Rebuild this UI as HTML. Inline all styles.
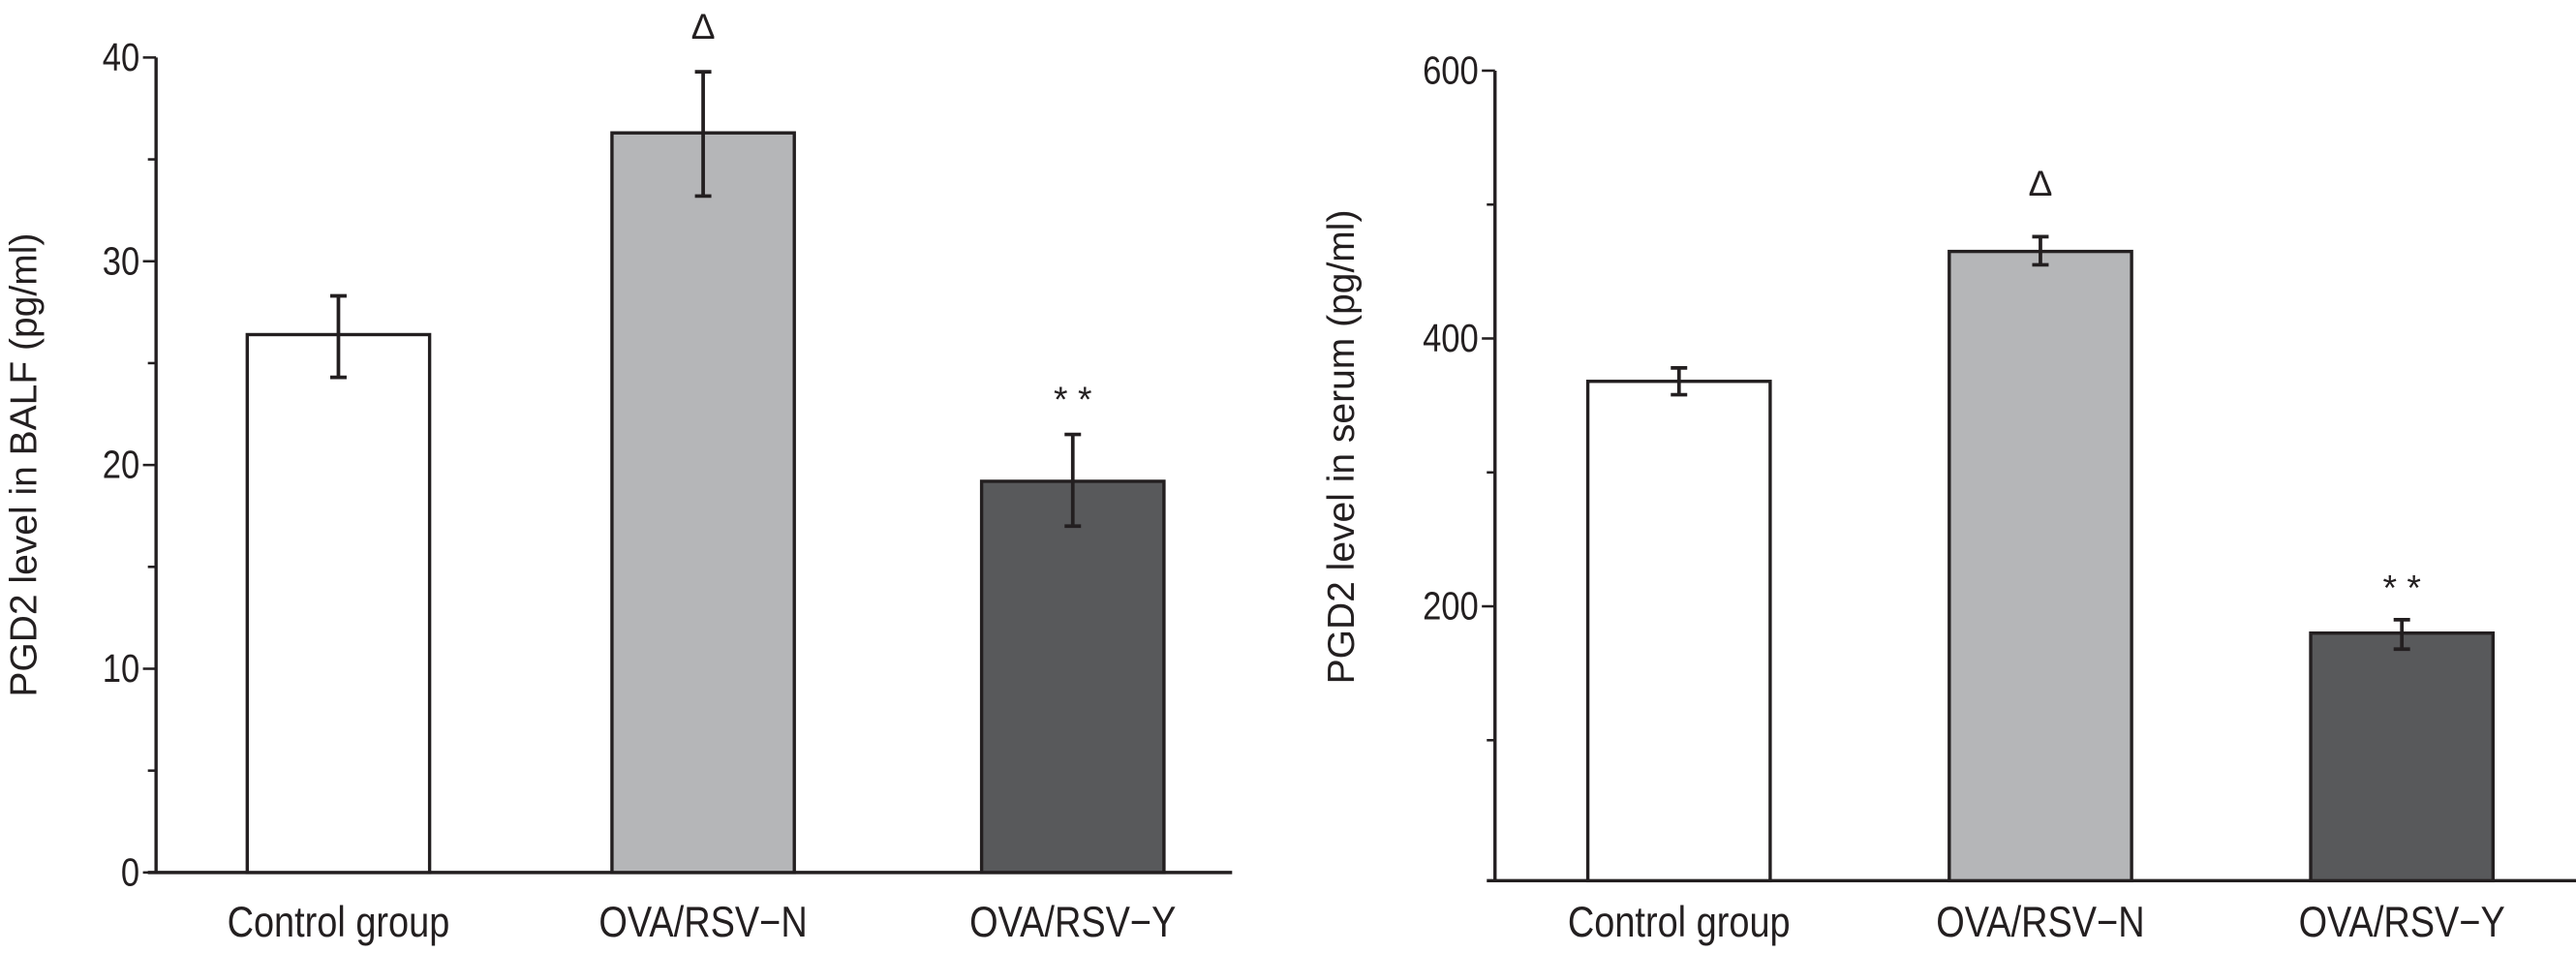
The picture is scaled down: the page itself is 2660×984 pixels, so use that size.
<!DOCTYPE html>
<html><head><meta charset="utf-8"><style>
html,body{margin:0;padding:0;background:#fff;}
svg{display:block;}
text{font-family:"Liberation Sans",sans-serif;fill:#231f20;}
</style></head><body>
<svg id="chart" width="2660" height="984" viewBox="0 0 1568 580" preserveAspectRatio="none" xmlns="http://www.w3.org/2000/svg">
<g id="left"></g>
<g id="right"></g>
</svg>
<script>
const categories = ["Control group","OVA/RSV\u2212N","OVA/RSV\u2212Y"];
const balfValues = [26.4, 36.3, 19.2];
const balfErrLow = [24.3, 33.2, 17.0];
const balfErrHigh = [28.3, 39.3, 21.5];
const balfTicks = [0, 10, 20, 30, 40];
const balfMarks = ["", "\u0394", "* *"];
const serumValues = [368, 465, 180];
const serumErrLow = [358, 455, 168];
const serumErrHigh = [378, 476, 190];
const serumTicks = [200, 400, 600];
const serumMinor = [100, 300, 500];
const serumMarks = ["", "\u0394", "* *"];
const fills = ["#ffffff", "#b5b6b8", "#58595b"];
const NS = "http://www.w3.org/2000/svg";
function mk(parent, tag, attrs, txt){
  const e = document.createElementNS(NS, tag);
  for (const k in attrs) e.setAttribute(k, attrs[k]);
  if (txt !== undefined) e.textContent = txt;
  parent.appendChild(e); return e;
}
function drawChart(g, cfg){
  const y = v => cfg.y0 - (v - cfg.vmin) * (cfg.y0 - cfg.yTop) / (cfg.vmax - cfg.vmin);
  const ax = mk(g,"line",{x1:cfg.ax,y1:cfg.axTop,x2:cfg.ax,y2:cfg.axBottom,stroke:"#231f20","stroke-width":2});
  
  
  const xl = mk(g,"line",{x1:cfg.ax-5,y1:cfg.axBottom,x2:cfg.xEnd,y2:cfg.axBottom,stroke:"#231f20","stroke-width":2});
  
  
  cfg.ticks.forEach(t=>{
    const l = mk(g,"line",{x1:cfg.ax-8,y1:y(t),x2:cfg.ax,y2:y(t),stroke:"#231f20","stroke-width":1.5});
    
    
    const tx = mk(g,"text",{x:cfg.ax-10,y:y(t)+8,"text-anchor":"end","font-size":24,transform:`translate(${cfg.ax-10},0) scale(0.85,1) translate(${-(cfg.ax-10)},0)`},String(t));
    
    
  });
  cfg.minor.forEach(t=>{
    const l = mk(g,"line",{x1:cfg.ax-5,y1:y(t),x2:cfg.ax,y2:y(t),stroke:"#231f20","stroke-width":1.5});
    
    
  });
  categories.forEach((c,i)=>{
    const cx = cfg.centers[i], w = cfg.barW;
    const r = mk(g,"rect",{x:cx-w/2,y:y(cfg.values[i]),width:w,height:cfg.axBottom-y(cfg.values[i]),fill:fills[i],stroke:"#231f20","stroke-width":2});
    
    
    const lo=y(cfg.lo[i]), hi=y(cfg.hi[i]);
    const eb = mk(g,"path",{d:`M${cx},${lo}V${hi}M${cx-5},${lo}H${cx+5}M${cx-5},${hi}H${cx+5}`,stroke:"#231f20","stroke-width":2.2,fill:"none"});
    
    
    const lb = mk(g,"text",{x:cx,y:570,"text-anchor":"middle","font-size":26,transform:`translate(${cx},0) scale(0.86,1) translate(${-cx},0)`},c);
    
    
    if (cfg.marks[i]) {
      const isD = cfg.marks[i]==="\u0394";
      const m = mk(g,"text",{x:cx,y:hi-(isD?cfg.dGap:cfg.sGap),"text-anchor":"middle","font-size":isD?22:22,"font-family":"Liberation Serif, serif"},cfg.marks[i]);
      
      
    }
  });
  const tt = mk(g,"text",{x:0,y:0,"text-anchor":"middle","font-size":23,transform:`translate(${cfg.titleX},${cfg.titleY}) rotate(-90)`},cfg.title);
  
  
}
drawChart(document.getElementById('left'),{
  ax:95, axTop:35, axBottom:531, xEnd:750, vmin:0, vmax:40, y0:531, yTop:35,
  ticks:balfTicks, minor:[5,15,25,35], centers:[206,428,653], barW:111,
  values:balfValues, lo:balfErrLow, hi:balfErrHigh, marks:balfMarks, dGap:20, sGap:14,
  title:"PGD2 level in BALF (pg/ml)", titleX:22, titleY:283
});
drawChart(document.getElementById('right'),{
  ax:910, axTop:43, axBottom:536, xEnd:1568, vmin:0, vmax:600, y0:532, yTop:43,
  ticks:serumTicks, minor:serumMinor, centers:[1022,1242,1462], barW:111,
  values:serumValues, lo:serumErrLow, hi:serumErrHigh, marks:serumMarks, dGap:25, sGap:12,
  title:"PGD2 level in serum (pg/ml)", titleX:824, titleY:272
});
</script>
</body></html>
